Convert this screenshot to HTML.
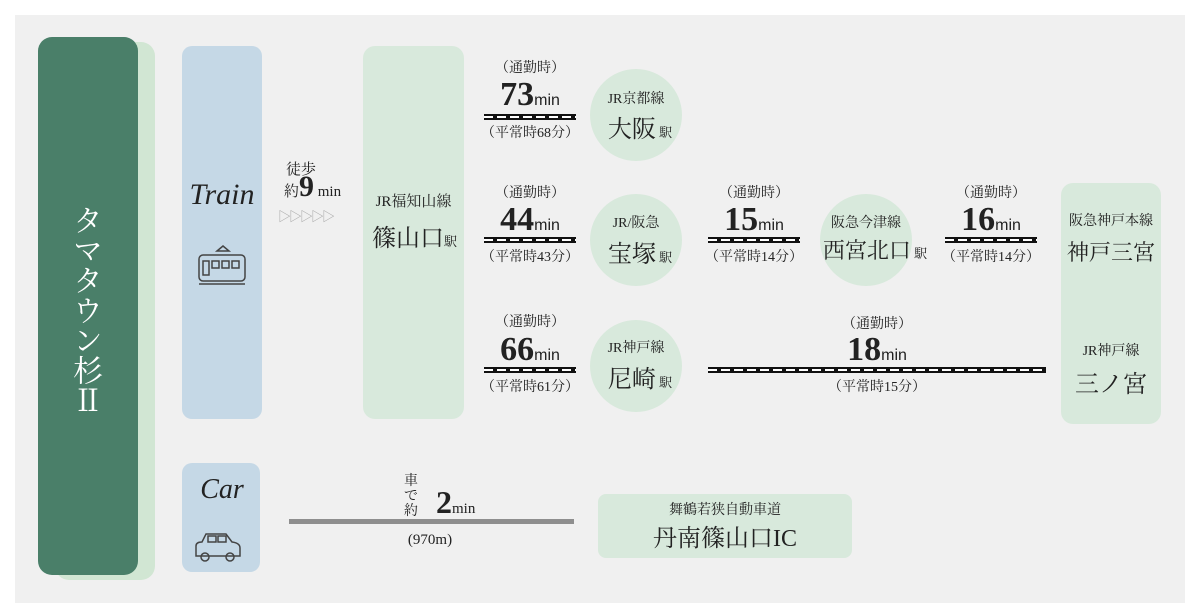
<!DOCTYPE html>
<html><head><meta charset="utf-8"><style>
*{margin:0;padding:0;box-sizing:border-box}
body{width:1200px;height:616px;background:#fff;position:relative;overflow:hidden;font-family:"Liberation Serif","Noto Serif CJK JP",serif;color:#222}
.a{position:absolute}
.c{position:absolute;text-align:center;white-space:nowrap}
.rail{position:absolute;height:6px;background:repeating-linear-gradient(90deg,#fff 0 9px,#111 9px 13px);border-top:2px solid #111;border-bottom:2px solid #111;}
.circ{position:absolute;width:92px;height:92px;border-radius:50%;background:#d8e9dc}
.sm{font-size:14px}
.big{font-size:34px;font-weight:bold;line-height:34px}
.mn{font-family:"Liberation Sans",sans-serif;font-size:16px;font-weight:normal}
.eki{font-size:13px}
</style></head><body>
<div class="a" style="left:15px;top:15px;width:1170px;height:588px;background:#f0f0f0"></div>
<div class="a" style="left:55px;top:42px;width:100px;height:538px;background:#d1e6d3;border-radius:14px"></div>
<div class="a" style="left:38px;top:37px;width:100px;height:538px;background:#4a7f69;border-radius:14px"></div>
<div class="a" style="left:38px;top:200px;width:100px;color:#fff;font-size:30px;writing-mode:vertical-rl;display:flex;align-items:center;justify-content:center;height:220px;font-family:'Noto Serif CJK JP',serif">タマタウン杉Ⅱ</div>

<div class="a" style="left:182px;top:46px;width:80px;height:373px;background:#c5d8e6;border-radius:10px"></div>
<div class="c" style="left:172px;top:178px;width:100px;font-size:30px;font-style:italic;font-family:'Liberation Serif',serif">Train</div>
<svg class="a" style="left:195px;top:245px" width="56" height="42" viewBox="0 0 56 42" fill="none" stroke="#444" stroke-width="1.5"><path d="M22 6 L28 1 L34 6 Z"/><rect x="4" y="10" width="46" height="26" rx="4"/><rect x="8" y="16" width="6" height="14"/><rect x="17" y="16" width="7" height="7"/><rect x="27" y="16" width="7" height="7"/><rect x="37" y="16" width="7" height="7"/><line x1="4" y1="39" x2="50" y2="39"/></svg>
<div class="a" style="left:182px;top:463px;width:78px;height:109px;background:#c5d8e6;border-radius:10px"></div>
<div class="c" style="left:172px;top:474px;width:100px;font-size:28px;font-style:italic">Car</div>
<svg class="a" style="left:192px;top:530px" width="52" height="34" viewBox="0 0 52 34" fill="none" stroke="#444" stroke-width="1.5"><path d="M4 26 V16 Q4 12 10 12 L14 4 H34 L40 12 Q48 13 48 18 V26 Z"/><rect x="16" y="6" width="8" height="6"/><rect x="26" y="6" width="8" height="6"/><circle cx="13" cy="27" r="4"/><circle cx="38" cy="27" r="4"/></svg>

<div class="c" style="left:285px;top:158px;width:32px;font-size:15px">徒歩</div>
<div class="c" style="left:284px;top:170px;width:100px;font-size:15px;text-align:left">約<span style="font-size:30px;font-weight:bold">9</span> min</div>
<div class="c" style="left:278px;top:206px;font-size:13px;color:#aaa;letter-spacing:-2px">▷▷▷▷▷</div>

<div class="a" style="left:363px;top:46px;width:101px;height:373px;background:#d8e9dc;border-radius:12px"></div>
<div class="c" style="left:363px;top:190px;width:101px;font-size:15px">JR福知山線</div>
<div class="c" style="left:372px;top:218px;width:101px;font-size:24px;text-align:left">篠山口<span class="eki">駅</span></div>

<div class="c sm" style="left:484px;top:57px;width:92px">（通勤時）</div>
<div class="c" style="left:484px;top:78px;width:92px"><span class="big">73</span><span class="mn">min</span></div>
<div class="rail" style="left:484px;top:114px;width:92px"></div>
<div class="c sm" style="left:476px;top:122px;width:108px">（平常時68分）</div>
<div class="circ" style="left:590px;top:69px"></div>
<div class="c" style="left:590px;top:88px;width:92px;font-size:14px">JR京都線</div>
<div class="c" style="left:590px;top:109px;width:100px;font-size:24px">大阪<span class="eki"> 駅</span></div>

<div class="c sm" style="left:484px;top:182px;width:92px">（通勤時）</div>
<div class="c" style="left:484px;top:203px;width:92px"><span class="big">44</span><span class="mn">min</span></div>
<div class="rail" style="left:484px;top:237px;width:92px"></div>
<div class="c sm" style="left:476px;top:246px;width:108px">（平常時43分）</div>
<div class="circ" style="left:590px;top:194px"></div>
<div class="c" style="left:590px;top:212px;width:92px;font-size:14px">JR/阪急</div>
<div class="c" style="left:590px;top:234px;width:100px;font-size:24px">宝塚<span class="eki"> 駅</span></div>

<div class="c sm" style="left:708px;top:182px;width:92px">（通勤時）</div>
<div class="c" style="left:708px;top:203px;width:92px"><span class="big">15</span><span class="mn">min</span></div>
<div class="rail" style="left:708px;top:237px;width:92px"></div>
<div class="c sm" style="left:700px;top:246px;width:108px">（平常時14分）</div>
<div class="circ" style="left:820px;top:194px"></div>
<div class="c" style="left:810px;top:212px;width:112px;font-size:14px">阪急今津線</div>
<div class="c" style="left:815px;top:234px;width:120px;font-size:22px">西宮北口<span class="eki"> 駅</span></div>

<div class="c sm" style="left:945px;top:182px;width:92px">（通勤時）</div>
<div class="c" style="left:945px;top:203px;width:92px"><span class="big">16</span><span class="mn">min</span></div>
<div class="rail" style="left:945px;top:237px;width:92px"></div>
<div class="c sm" style="left:937px;top:246px;width:108px">（平常時14分）</div>

<div class="a" style="left:1061px;top:183px;width:100px;height:241px;background:#d8e9dc;border-radius:12px"></div>
<div class="c" style="left:1056px;top:210px;width:110px;font-size:14px">阪急神戸本線</div>
<div class="c" style="left:1061px;top:236px;width:100px;font-size:22px">神戸三宮</div>
<div class="c" style="left:1061px;top:340px;width:100px;font-size:14px">JR神戸線</div>
<div class="c" style="left:1061px;top:364px;width:100px;font-size:24px">三ノ宮</div>

<div class="c sm" style="left:484px;top:311px;width:92px">（通勤時）</div>
<div class="c" style="left:484px;top:333px;width:92px"><span class="big">66</span><span class="mn">min</span></div>
<div class="rail" style="left:484px;top:367px;width:92px"></div>
<div class="c sm" style="left:476px;top:376px;width:108px">（平常時61分）</div>
<div class="circ" style="left:590px;top:320px"></div>
<div class="c" style="left:590px;top:337px;width:92px;font-size:14px">JR神戸線</div>
<div class="c" style="left:590px;top:359px;width:100px;font-size:24px">尼崎<span class="eki"> 駅</span></div>

<div class="c sm" style="left:708px;top:313px;width:338px">（通勤時）</div>
<div class="c" style="left:708px;top:333px;width:338px"><span class="big">18</span><span class="mn">min</span></div>
<div class="rail" style="left:708px;top:367px;width:338px"></div>
<div class="c sm" style="left:708px;top:376px;width:338px">（平常時15分）</div>

<div class="a" style="left:403px;top:474px;width:16px;font-size:14px;line-height:15px;text-align:center">車<br>で<br>約</div>
<div class="c" style="left:436px;top:484px;font-size:32px;font-weight:bold">2<span style="font-size:15px;font-weight:normal">min</span></div>
<div class="a" style="left:289px;top:519px;width:285px;height:5px;background:#8e8e8e"></div>
<div class="c" style="left:380px;top:532px;width:100px;font-size:15px">(970m)</div>
<div class="a" style="left:598px;top:494px;width:254px;height:64px;background:#d8e9dc;border-radius:8px"></div>
<div class="c" style="left:598px;top:499px;width:254px;font-size:14px">舞鶴若狭自動車道</div>
<div class="c" style="left:598px;top:518px;width:254px;font-size:24px">丹南篠山口IC</div>
</body></html>
